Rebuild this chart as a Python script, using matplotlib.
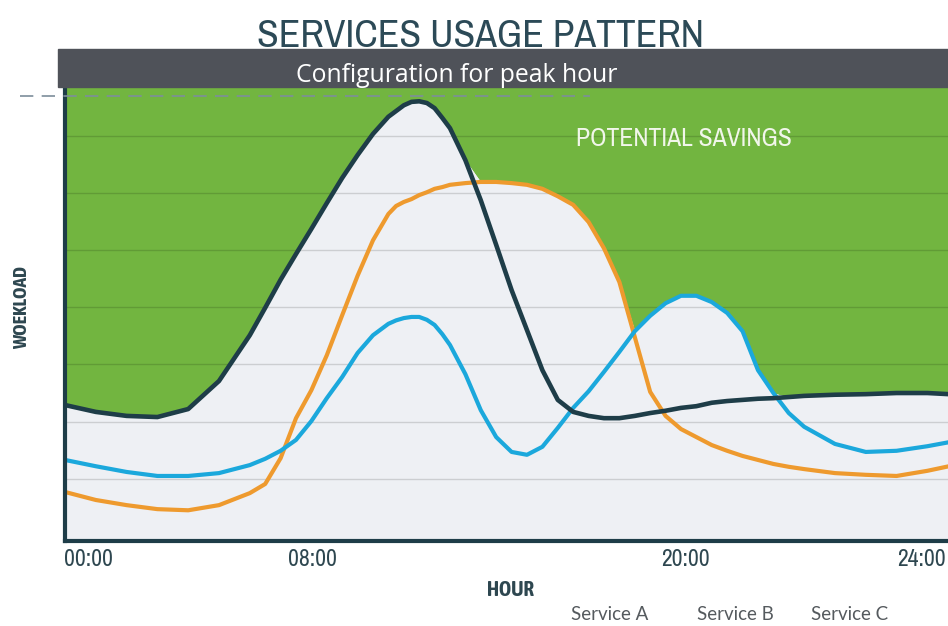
import numpy as np
import matplotlib.pyplot as plt
from matplotlib.patches import Rectangle
from matplotlib import font_manager
from matplotlib.font_manager import FontProperties

# Fuentes: buscar una estrecha (condensed / narrow) para los rotulos
def peso(f):
    return f.weight if isinstance(f.weight, int) else font_manager.weight_dict.get(f.weight, 400)

def buscar_estrecha(objetivo):
    cands = []
    for f in font_manager.fontManager.ttflist:
        estirada = str(f.stretch).lower()
        if 'condensed' in estirada or 'narrow' in f.name.lower() or 'condensed' in f.name.lower():
            if 'mono' in f.name.lower() or str(f.style) != 'normal':
                continue
            cands.append(f)
    if not cands:
        return None
    cands.sort(key=lambda f: (abs(peso(f) - objetivo), f.name))
    return cands[0].fname

ruta_n = buscar_estrecha(450)
ruta_b = buscar_estrecha(700)

def fp(size, bold=False):
    ruta = ruta_b if bold else ruta_n
    if ruta:
        return FontProperties(fname=ruta, size=size)
    return FontProperties(family='DejaVu Sans', size=size * 0.8,
                          weight='bold' if bold else 'normal')

# Datos (carga en unidades de la rejilla)
hours = [0, 1, 2, 3, 4, 5, 6,
         6.5, 7, 7.5, 8, 8.5, 9, 9.5, 10, 10.5, 10.75, 11, 11.25, 11.5, 11.75, 12, 12.25,
         12.5, 13, 13.5, 14,
         14.5, 15, 15.5, 16, 16.5, 17, 17.5, 18, 18.5, 19, 19.5, 20, 20.5, 21,
         21.5, 22, 22.5, 23, 23.5, 24,
         25, 26, 27, 28, 28.7]
service_a = [2.29, 2.17, 2.10, 2.08, 2.22, 2.71, 3.51,
             3.99, 4.48, 4.93, 5.37, 5.82, 6.26, 6.66, 7.03, 7.33, 7.43, 7.53, 7.59, 7.60, 7.57, 7.48, 7.31,
             7.13, 6.57, 5.87, 5.09,
             4.30, 3.60, 2.90, 2.38, 2.17, 2.10, 2.06, 2.06, 2.10, 2.15, 2.19, 2.24, 2.27, 2.33,
             2.36, 2.38, 2.40, 2.41, 2.43, 2.45,
             2.47, 2.48, 2.50, 2.50, 2.48]
service_b = [0.77, 0.63, 0.54, 0.47, 0.45, 0.54, 0.75,
             0.91, 1.36, 2.06, 2.55, 3.16, 3.86, 4.55, 5.17, 5.63, 5.77, 5.84, 5.89, 5.96, 6.01, 6.07, 6.10,
             6.14, 6.17, 6.19, 6.19,
             6.17, 6.14, 6.07, 5.94, 5.79, 5.49, 5.03, 4.44, 3.48, 2.52, 2.10, 1.87, 1.73, 1.59,
             1.49, 1.40, 1.33, 1.26, 1.21, 1.17,
             1.10, 1.07, 1.05, 1.14, 1.22]
service_c = [1.33, 1.22, 1.12, 1.05, 1.05, 1.10, 1.24,
             1.35, 1.49, 1.68, 2.01, 2.41, 2.78, 3.20, 3.51, 3.71, 3.77, 3.81, 3.83, 3.83, 3.78, 3.69, 3.53,
             3.34, 2.83, 2.20, 1.73,
             1.47, 1.42, 1.56, 1.89, 2.24, 2.53, 2.87, 3.22, 3.58, 3.85, 4.07, 4.20, 4.20, 4.09,
             3.90, 3.58, 2.90, 2.50, 2.15, 1.91,
             1.61, 1.47, 1.49, 1.57, 1.64]
series_names = ['Service A', 'Service B', 'Service C']
tick_pos = [0.75, 8.03, 20.16, 27.82]
tick_labels = ['00:00', '08:00', '20:00', '24:00']
peak_level = 7.69

colores = ['#1E3D48', '#EE9A2E', '#1BA8DC']
verde = '#72B540'
gris_claro = '#EEF0F4'
texto_oscuro = '#2E4750'

fig = plt.figure(figsize=(9.48, 6.26), dpi=100)
ax = fig.add_axes([65 / 948, 85 / 626, 883 / 948, 454 / 626])
ax.set_xlim(0, 28.67)
ax.set_ylim(-0.087, 7.85)

# zona de ahorro (verde) por encima de la envolvente de los servicios
x = np.array(hours)
envolvente = np.maximum(np.maximum(service_a, service_b), service_c)
ax.fill_between(x, envolvente, 10, color=verde, linewidth=0)
ax.fill_between(x, -1, envolvente, color=gris_claro, linewidth=0)

ax.plot(x, service_b, color=colores[1], lw=3.0, solid_capstyle='round', solid_joinstyle='round', zorder=3)
ax.plot(x, service_c, color=colores[2], lw=3.0, solid_capstyle='round', solid_joinstyle='round', zorder=3)
ax.plot(x, service_a, color=colores[0], lw=3.3, solid_capstyle='round', solid_joinstyle='round', zorder=4)

# rejilla
ax.set_yticks([1, 2, 3, 4, 5, 6, 7])
ax.set_axisbelow('line')
ax.grid(axis='y', color='black', alpha=0.14, linewidth=1)
ax.tick_params(axis='y', length=0, labelleft=False)

ax.set_xticks(tick_pos, tick_labels)
ax.tick_params(axis='x', length=0, pad=6, labelcolor=texto_oscuro)
for t in ax.get_xticklabels():
    t.set_fontproperties(fp(17))

for s in ['top', 'right']:
    ax.spines[s].set_visible(False)
for s in ['left', 'bottom']:
    ax.spines[s].set_color('#1E3D48')
    ax.spines[s].set_linewidth(3)
    ax.spines[s].set_zorder(5)

# linea de configuracion para la hora pico
ax.plot([-1.46, 17.05], [peak_level, peak_level], color='#7D8E9B', lw=1.2,
        dashes=(8, 5), clip_on=False, zorder=6)

ax.text(20.1, 6.95, 'POTENTIAL SAVINGS', fontproperties=fp(18.5),
        color='#F1F6EA', ha='center', va='center')

ax.set_xlabel('HOUR', fontproperties=fp(15, True), color=texto_oscuro)
ax.xaxis.set_label_coords(0.505, -0.085)
fig.text(22 / 948, 1 - 308 / 626, 'WOEKLOAD', fontproperties=fp(14, True),
         color=texto_oscuro, rotation=90, ha='center', va='center')

# titulo y banda gris
fig.text(481 / 948, 1 - 47 / 626, 'SERVICES USAGE PATTERN', fontproperties=fp(28.5),
         color='#2C4A57', ha='center', va='baseline')
fig.patches.append(Rectangle((58 / 948, 1 - 87 / 626), 1 - 58 / 948, 38 / 626,
                             transform=fig.transFigure, color='#4F5259', zorder=10))
fig.text(457 / 948, 1 - 76 / 626, 'Configuration for peak hour', family='Open Sans',
         fontsize=17.8, color='white', ha='center', va='center', zorder=11)

# leyenda solo texto
leg_x = [571, 697, 811]
for nombre, px in zip(series_names, leg_x):
    fig.text(px / 948, 1 - 614 / 626, nombre, family='Lato', fontsize=13.5,
             color='#555A5E', ha='left', va='center')

plt.savefig('out.png', dpi=100)
